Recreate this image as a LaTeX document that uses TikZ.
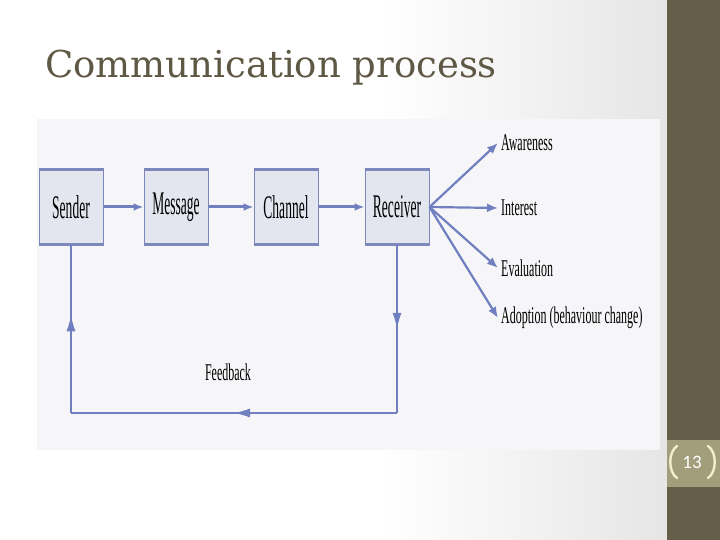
\documentclass[tikz,border=0pt]{standalone}
\usepackage{fontspec}
\setmainfont{DejaVu Serif}
\newfontfamily\scanfont[FakeStretch=0.5]{Liberation Serif}
\newfontfamily\boxfont[FakeStretch=0.41]{Liberation Serif}
\newfontfamily\slidesans{Carlito}
\usetikzlibrary{positioning,arrows.meta,decorations.markings}
\definecolor{olivedark}{HTML}{655E48}
\definecolor{oliveband}{HTML}{A29E7C}
\definecolor{bracketcol}{HTML}{F2EDCB}
\definecolor{titlecol}{HTML}{5E5844}
\definecolor{scanbg}{HTML}{F6F6F9}
\definecolor{boxfill}{HTML}{E3E5EF}
\definecolor{boxline}{HTML}{7C88BC}
\definecolor{arrowcol}{HTML}{6F7FC0}
\tikzset{
  stagebox/.style = {
    rectangle,
    draw=boxline,
    line width=1pt,
    fill=boxfill,
    minimum width=64pt,
    minimum height=74pt,
    inner sep=0pt,
    font=\boxfont\fontsize{33}{35}\selectfont
  },
  boxedge/.style = {
    boxline,
    line width=2.6pt
  },
  outcome/.style = {
    anchor=west,
    inner sep=3pt,
    font=\scanfont\fontsize{24}{26}\selectfont
  },
  mainflow/.style = {
    arrowcol,
    line width=3pt,
    -{Latex[length=10pt,width=8pt]}
  },
  fanflow/.style = {
    arrowcol,
    line width=2.2pt,
    -{Latex[length=11pt,width=9pt]}
  },
  fbline/.style = {
    arrowcol,
    line width=1.3pt
  },
  midarrow/.style = {
    postaction={decorate},
    decoration={markings,
      mark=at position #1 with {\arrow{Latex[length=16pt,width=9pt]}}}
  }
}
\begin{document}
\begin{tikzpicture}[x=1pt,y=-1pt]

% Folie
\useasboundingbox (0,0) rectangle (720,540);
\fill[white] (0,0) rectangle (720,540);
\shade[left color=white, right color=black!10] (380,0) rectangle (667,540);
\fill[olivedark] (667,0) rectangle (720,540);
\fill[oliveband] (667,440) rectangle (720,487);

% Titel
\node[anchor=base west, inner sep=0pt, text=titlecol,
      font=\fontsize{37}{41}\selectfont] (title) at (45,78) {Communication process};

% Seitenzahl
\node[text=white, font=\slidesans\fontsize{19}{21}\selectfont] (pagenum) at (692,462) {13};
\draw[bracketcol, line width=2.4pt, line cap=round]
  (677,446) .. controls (668,452) and (668,472) .. (677,478);
\draw[bracketcol, line width=2.4pt, line cap=round]
  (708,446) .. controls (717,452) and (717,472) .. (708,478);

% Abbildung
\fill[scanbg] (37,119) rectangle (660,450);

% Stationen
\node[stagebox] (sender) at (71,207) {Sender};
\node[stagebox, right=40pt of sender] (message) {Message};
\node[stagebox, right=45pt of message] (channel) {Channel};
\node[stagebox, right=46pt of channel] (receiver) {Receiver};
\foreach \b in {sender,message,channel,receiver} {
  \draw[boxedge] (\b.north west) -- (\b.north east);
  \draw[boxedge] (\b.south west) -- (\b.south east);
}

% Wirkungen
\node[outcome] (awareness) at (498,143) {Awareness};
\node[outcome] (interest) at (498,208) {Interest};
\node[outcome] (evaluation) at (498,268) {Evaluation};
\node[outcome] (adoption) at (498,318) {Adoption (behaviour change)};

% Rueckkopplung
\coordinate (fb_right) at (receiver.south |- 0,413);
\coordinate (fb_left) at (sender.south |- 0,413);
\node[font=\scanfont\fontsize{24}{26}\selectfont] (fb_label) at (228,372) {Feedback};

% VERBINDUNGEN
\draw[mainflow] (sender) -- (message);
\draw[mainflow] (message) -- (channel);
\draw[mainflow] (channel) -- (receiver);

\draw[fanflow] (receiver.east) -- (awareness.west);
\draw[fanflow] (receiver.east) -- (interest.west);
\draw[fanflow] (receiver.east) -- (evaluation.west);
\draw[fanflow] (receiver.east) -- (adoption.west);

\draw[fbline, midarrow=0.5] (receiver.south) -- (fb_right);
\draw[fbline, midarrow=0.5] (fb_right) -- (fb_left);
\draw[fbline, midarrow=0.58] (fb_left) -- (sender.south);

\end{tikzpicture}
\end{document}
